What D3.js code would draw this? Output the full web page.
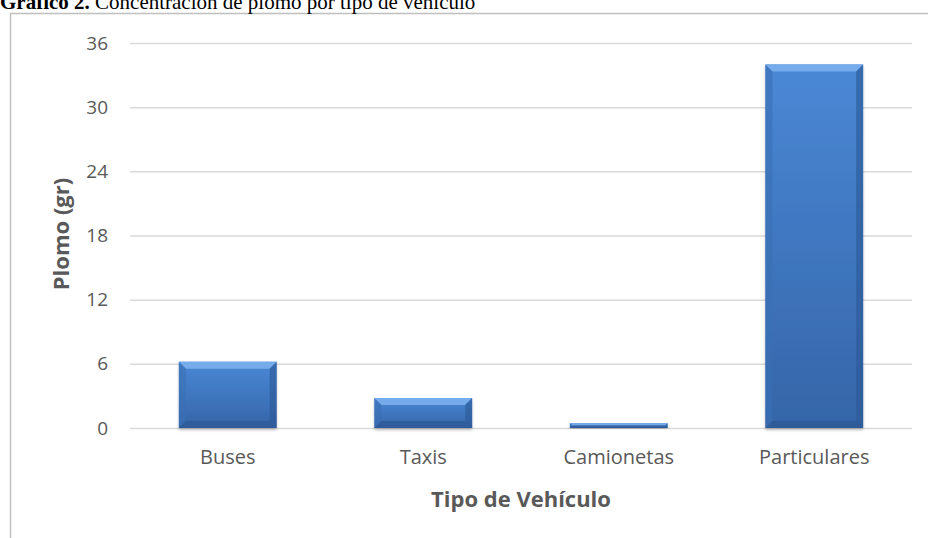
<!DOCTYPE html>
<html>
<head>
<meta charset="utf-8">
<script src="https://cdn.jsdelivr.net/npm/d3@7"></script>
<style>
  body { margin: 0; background: #fff; }
  svg { display: block; }
</style>
</head>
<body>
<svg width="928" height="538"></svg>
<script>
var categories = ["Buses", "Taxis", "Camionetas", "Particulares"];
var values = [6.2, 2.8, 0.45, 34];
var yTicks = [0, 6, 12, 18, 24, 30, 36];

var svg = d3.select("svg"),
  width = +svg.attr("width"),
  height = +svg.attr("height");

var margin = {top: 43, right: 16, bottom: 110, left: 130};

// outer frame of the chart area
svg.append("rect")
  .attr("x", 10.5).attr("y", 13.5)
  .attr("width", 940).attr("height", 600)
  .attr("fill", "none")
  .attr("stroke", "#bfbfbf")
  .attr("stroke-width", 1.5);

// title (partly cut off at the top, as in the source document)
var title = svg.append("text")
  .attr("x", 0).attr("y", 9)
  .style("font-family", "'Liberation Serif', 'Times New Roman', serif")
  .style("font-size", "21px")
  .attr("fill", "#000");
title.append("tspan").style("font-weight", "bold").text("Gráfico 2.");
title.append("tspan").text(" Concentración de plomo por tipo de vehículo");

var x = d3.scaleBand()
  .domain(categories)
  .range([margin.left, width - margin.right])
  .paddingInner(0.5)
  .paddingOuter(0.25);

var y = d3.scaleLinear()
  .domain([0, 36])
  .range([428, 43]);

var font = "'Open Sans', 'Noto Sans', sans-serif";

// gridlines
svg.append("g")
  .selectAll("line")
  .data(yTicks)
  .enter().append("line")
  .attr("x1", margin.left).attr("x2", width - margin.right)
  .attr("y1", d => y(d) + 0.5).attr("y2", d => y(d) + 0.5)
  .attr("stroke", "#d9d9d9")
  .attr("stroke-width", 1.5);

// y axis labels
var yAxis = svg.append("g")
  .attr("transform", "translate(" + (margin.left - 22) + ",0)")
  .call(d3.axisLeft(y).tickValues(yTicks).tickSize(0).tickPadding(0));
yAxis.select(".domain").remove();
yAxis.selectAll("text")
  .style("font-family", font)
  .style("font-size", "19px")
  .attr("fill", "#595959");

// x axis labels
var xAxis = svg.append("g")
  .attr("transform", "translate(0," + 428 + ")")
  .call(d3.axisBottom(x).tickSize(0).tickPadding(22));
xAxis.select(".domain").remove();
xAxis.selectAll("text")
  .style("font-family", font)
  .style("font-size", "20px")
  .attr("fill", "#595959");

// axis titles
svg.append("text")
  .attr("x", (margin.left + width - margin.right) / 2)
  .attr("y", 507)
  .attr("text-anchor", "middle")
  .style("font-family", font)
  .style("font-size", "22px")
  .style("font-weight", "bold")
  .attr("fill", "#595959")
  .text("Tipo de Vehículo");

svg.append("text")
  .attr("transform", "translate(69," + 234 + ") rotate(-90)")
  .attr("text-anchor", "middle")
  .style("font-family", font)
  .style("font-size", "22px")
  .style("font-weight", "bold")
  .attr("fill", "#595959")
  .text("Plomo (gr)");

// gradients and shadow for beveled bars
var defs = svg.append("defs");
var grad = defs.append("linearGradient")
  .attr("id", "barGrad")
  .attr("x1", 0).attr("y1", 0).attr("x2", 0).attr("y2", 1);
grad.append("stop").attr("offset", "0%").attr("stop-color", "#4a88d6");
grad.append("stop").attr("offset", "100%").attr("stop-color", "#3565a8");

var shadow = defs.append("filter").attr("id", "shadow")
  .attr("x", "-10%").attr("y", "-10%").attr("width", "120%").attr("height", "130%");
shadow.append("feDropShadow")
  .attr("dx", 0).attr("dy", 2).attr("stdDeviation", 1.5)
  .attr("flood-color", "#000").attr("flood-opacity", 0.25);

var bars = svg.append("g")
  .selectAll("g")
  .data(categories)
  .enter().append("g");

bars.append("rect")
  .attr("x", d => x(d))
  .attr("y", (d, i) => y(values[i]))
  .attr("width", x.bandwidth())
  .attr("height", (d, i) => y(0) - y(values[i]))
  .attr("fill", "url(#barGrad)")
  .attr("filter", "url(#shadow)");

// bevel: lighter top, darker sides and bottom
function bevel(d, i) {
  var x0 = x(d), x1 = x(d) + x.bandwidth();
  var y0 = y(values[i]), y1 = y(0);
  var b = Math.min(7, (y1 - y0) / 2, x.bandwidth() / 2);
  return {x0: x0, x1: x1, y0: y0, y1: y1, b: b};
}

bars.append("path")
  .attr("d", (d, i) => {
    var v = bevel(d, i);
    return "M" + v.x0 + "," + v.y0 + "L" + v.x1 + "," + v.y0 +
      "L" + (v.x1 - v.b) + "," + (v.y0 + v.b) + "L" + (v.x0 + v.b) + "," + (v.y0 + v.b) + "Z";
  })
  .attr("fill", "#7eb2f0")
  .attr("opacity", 0.85);

bars.append("path")
  .attr("d", (d, i) => {
    var v = bevel(d, i);
    return "M" + v.x0 + "," + v.y0 + "L" + (v.x0 + v.b) + "," + (v.y0 + v.b) +
      "L" + (v.x0 + v.b) + "," + (v.y1 - v.b) + "L" + v.x0 + "," + v.y1 + "Z";
  })
  .attr("fill", "#3b6fb4")
  .attr("opacity", 0.6);

bars.append("path")
  .attr("d", (d, i) => {
    var v = bevel(d, i);
    return "M" + v.x1 + "," + v.y0 + "L" + (v.x1 - v.b) + "," + (v.y0 + v.b) +
      "L" + (v.x1 - v.b) + "," + (v.y1 - v.b) + "L" + v.x1 + "," + v.y1 + "Z";
  })
  .attr("fill", "#2c5894")
  .attr("opacity", 0.6);

bars.append("path")
  .attr("d", (d, i) => {
    var v = bevel(d, i);
    return "M" + v.x0 + "," + v.y1 + "L" + (v.x0 + v.b) + "," + (v.y1 - v.b) +
      "L" + (v.x1 - v.b) + "," + (v.y1 - v.b) + "L" + v.x1 + "," + v.y1 + "Z";
  })
  .attr("fill", "#2b5590")
  .attr("opacity", 0.6);
</script>
</body>
</html>
